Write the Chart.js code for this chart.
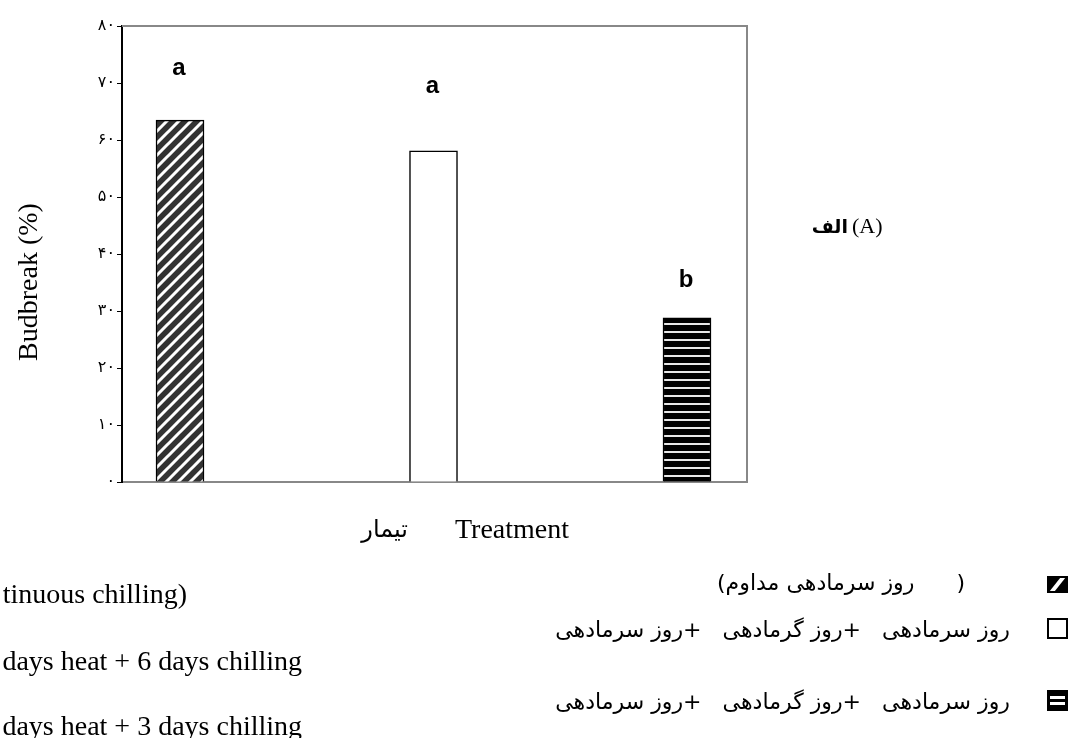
<!DOCTYPE html>
<html>
<head>
<meta charset="utf-8">
<script src="https://cdn.jsdelivr.net/npm/chart.js@4.4.1/dist/chart.umd.min.js"></script>
<style>
  html, body { margin: 0; padding: 0; background: #ffffff; }
  #wrap { width: 1072px; height: 738px; position: relative; overflow: hidden; }
</style>
</head>
<body>
<div id="wrap"><canvas id="c" width="1072" height="738"></canvas></div>
<script>
// ---- data ----
const categories = ['continuous chilling', 'heat + 6 days chilling', 'heat + 3 days chilling'];
const budbreak = [63.5, 58.1, 28.8];
const letters = ['a', 'a', 'b'];
const letterLevels = [71.4, 68.2, 34.2];
const yTickValues = [0, 10, 20, 30, 40, 50, 60, 70, 80];
const yTickLabels = ['۰', '۱۰', '۲۰', '۳۰', '۴۰', '۵۰', '۶۰', '۷۰', '۸۰'];
const yTitle = 'Budbreak (%)';
const xTitle = 'Treatment';
const xTitleFa = 'تیمار';
const panelLabel = '(A)';
const panelLabelFa = 'الف';
const legendEn = ['tinuous chilling)', 'days heat + 6 days chilling', 'days heat + 3 days chilling'];
const legendFa = ['(روز سرمادهی مداوم      )', 'روز سرمادهی   +روز گرمادهی   +روز سرمادهی', 'روز سرمادهی   +روز گرمادهی   +روز سرمادهی'];

// ---- patterns ----
function diagPattern() {
  const s = 12, c = document.createElement('canvas');
  c.width = s; c.height = s;
  const g = c.getContext('2d');
  g.fillStyle = '#333333'; g.fillRect(0, 0, s, s);
  g.strokeStyle = '#ffffff'; g.lineWidth = 3;
  g.beginPath();
  g.moveTo(-2, s + 2); g.lineTo(s + 2, -2);
  g.moveTo(-2, 2); g.lineTo(2, -2);
  g.moveTo(s - 2, s + 2); g.lineTo(s + 2, s - 2);
  g.stroke();
  return g.createPattern(c, 'repeat');
}
function horizPattern() {
  const c = document.createElement('canvas');
  c.width = 8; c.height = 8;
  const g = c.getContext('2d');
  g.fillStyle = '#000000'; g.fillRect(0, 0, 8, 8);
  g.fillStyle = '#e8e8e8'; g.fillRect(0, 3, 8, 2);
  return g.createPattern(c, 'repeat');
}
const ctx0 = document.getElementById('c').getContext('2d');
const fills = [diagPattern(), '#ffffff', horizPattern()];

// ---- overlay drawing ----
const overlay = {
  id: 'overlay',
  afterDraw(chart) {
    const ctx = chart.ctx, a = chart.chartArea;
    const xs = chart.scales.x, ys = chart.scales.y;
    ctx.save();
    // top & right frame
    ctx.strokeStyle = '#888888'; ctx.lineWidth = 2;
    ctx.beginPath();
    ctx.moveTo(a.left, a.top); ctx.lineTo(a.right, a.top); ctx.lineTo(a.right, a.bottom);
    ctx.stroke();

    // significance letters
    ctx.fillStyle = '#000';
    ctx.font = 'bold 24px "Liberation Sans", Arial, sans-serif';
    ctx.textAlign = 'center'; ctx.textBaseline = 'alphabetic';
    letters.forEach((l, i) => {
      ctx.fillText(l, xs.getPixelForValue(i + 1) - 1, ys.getPixelForValue(letterLevels[i]));
    });

    // axis titles
    ctx.font = '28px "Liberation Serif", "Times New Roman", serif';
    ctx.save();
    ctx.translate(37, 282); ctx.rotate(-Math.PI / 2);
    ctx.textAlign = 'center'; ctx.textBaseline = 'alphabetic';
    ctx.fillText(yTitle, 0, 0);
    ctx.restore();
    ctx.textAlign = 'left';
    ctx.fillText(xTitle, 455, 538);
    ctx.font = '24px "DejaVu Sans", sans-serif';
    ctx.direction = 'rtl'; ctx.textAlign = 'right';
    ctx.fillText(xTitleFa, 408, 537);

    // panel label
    ctx.direction = 'ltr'; ctx.textAlign = 'left';
    ctx.font = '22px "Liberation Serif", "Times New Roman", serif';
    ctx.fillText(panelLabel, 852, 233);
    ctx.font = 'bold 19px "DejaVu Sans", sans-serif';
    ctx.direction = 'rtl'; ctx.textAlign = 'right';
    ctx.fillText(panelLabelFa, 848, 233);

    // English legend (clipped at left edge)
    ctx.direction = 'ltr'; ctx.textAlign = 'right';
    ctx.font = '28px "Liberation Serif", "Times New Roman", serif';
    ctx.fillText(legendEn[0], 187, 603);
    ctx.fillText(legendEn[1], 302, 670);
    ctx.fillText(legendEn[2], 302, 735);

    // Persian legend
    ctx.font = '20px "DejaVu Sans", sans-serif';
    ctx.direction = 'rtl';
    const target = 455;
    const w = ctx.measureText(legendFa[1]).width;
    const fs = 20 * target / w;
    ctx.font = fs.toFixed(2) + 'px "DejaVu Sans", sans-serif';
    ctx.direction = 'ltr'; ctx.textAlign = 'left';
    ctx.fillText(legendFa[0], 717, 590);
    ctx.direction = 'rtl'; ctx.textAlign = 'right';
    ctx.fillText(legendFa[1], 1010, 637);
    ctx.fillText(legendFa[2], 1010, 709);
    ctx.direction = 'ltr';

    // legend icons
    const bx = 1048, bw = 19;
    ctx.fillStyle = '#000'; ctx.fillRect(bx, 577, bw, 15);
    ctx.save();
    ctx.beginPath(); ctx.rect(bx, 577, bw, 15); ctx.clip();
    ctx.strokeStyle = '#fff'; ctx.lineWidth = 4;
    ctx.beginPath(); ctx.moveTo(bx + 2, 594); ctx.lineTo(bx + bw - 2, 575); ctx.stroke();
    ctx.restore();
    ctx.strokeStyle = '#000'; ctx.lineWidth = 2;
    ctx.strokeRect(bx, 577, bw, 15);
    ctx.fillStyle = '#fff'; ctx.fillRect(bx, 619, bw, 19);
    ctx.strokeRect(bx, 619, bw, 19);
    ctx.fillStyle = '#000'; ctx.fillRect(bx, 691, bw, 19);
    ctx.fillStyle = '#fff';
    ctx.fillRect(bx + 2, 696, bw - 4, 3);
    ctx.fillRect(bx + 2, 702, bw - 4, 3);
    ctx.strokeRect(bx, 691, bw, 19);
    ctx.restore();
  }
};

new Chart(ctx0, {
  type: 'bar',
  data: {
    labels: categories,
    datasets: [{
      data: budbreak.map((v, i) => ({ x: i + 1, y: v })),
      backgroundColor: fills,
      borderColor: '#000000',
      borderWidth: 1.5,
      borderSkipped: 'bottom',
      barThickness: 48
    }]
  },
  options: {
    responsive: false,
    animation: false,
    devicePixelRatio: 1,
    layout: { padding: { left: 0, top: 26, right: 325, bottom: 256 } },
    plugins: { legend: { display: false }, tooltip: { enabled: false } },
    scales: {
      x: {
        type: 'linear',
        offset: false,
        min: 0.7712, max: 3.2367,
        ticks: { display: false },
        grid: { drawOnChartArea: false, drawTicks: false, offset: false },
        border: { display: true, color: '#888888', width: 2 },
        afterFit: s => { s.height = 0; }
      },
      y: {
        min: 0, max: 80,
        afterBuildTicks: s => { s.ticks = yTickValues.map(v => ({ value: v })); },
        ticks: {
          callback: (v) => yTickLabels[yTickValues.indexOf(v)],
          color: '#000', padding: 2,
          font: { family: '"DejaVu Sans", sans-serif', size: 16 }
        },
        grid: { drawOnChartArea: false, drawTicks: true, tickLength: 5, color: '#000' },
        border: { display: true, color: '#000000', width: 2 },
        afterFit: s => { s.width = 122; }
      }
    }
  },
  plugins: [overlay]
});
</script>
</body>
</html>
